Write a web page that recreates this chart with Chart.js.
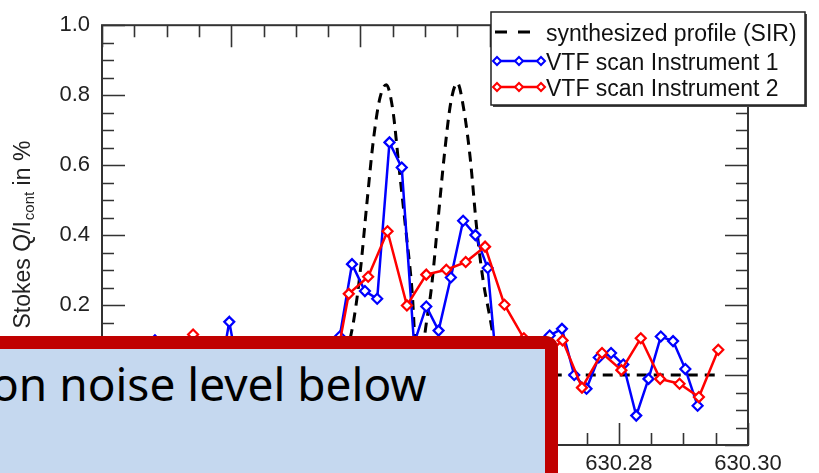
<!DOCTYPE html>
<html>
<head>
<meta charset="utf-8">
<title>Stokes Q profile</title>
<script src="https://cdn.jsdelivr.net/npm/chart.js@4.4.0/dist/chart.umd.min.js"></script>
<style>
  html, body { margin: 0; padding: 0; background: #fff; overflow: hidden; }
  #wrap { position: relative; width: 819px; height: 473px; overflow: hidden; }
  #chart { position: absolute; left: 0; top: 0; }
  .callout {
    position: absolute; left: -30px; top: 336px; width: 588px; height: 200px;
    box-sizing: border-box; border: 13px solid #c00000; border-top-right-radius: 12px;
    background: #c5d8ef;
  }
  .callout span {
    position: absolute; left: 8px; top: 11px; white-space: nowrap;
    font-family: 'Noto Sans', sans-serif; font-size: 46px; line-height: 46px; color: #000;
  }
</style>
</head>
<body>
<div id="wrap">
  <canvas id="chart" width="819" height="473"></canvas>
  <div class="callout"><span>on noise level below</span></div>
</div>
<script>
// Synthesized profile (SIR), wavelength in nm and Q/I in %
const profileWl = [630.205, 630.234, 630.235, 630.236, 630.237, 630.238, 630.239, 630.240,
    630.241, 630.242, 630.243, 630.244, 630.245, 630.246, 630.247, 630.248, 630.249,
    630.250, 630.251, 630.252, 630.253, 630.254, 630.255, 630.256, 630.257, 630.258,
    630.259, 630.260, 630.261, 630.262, 630.263, 630.2955];
const profileVals = [0, 0, 0, 0.01, 0.03, 0.075, 0.16, 0.30,
    0.49, 0.67, 0.79, 0.83, 0.76, 0.59, 0.42, 0.24, -0.05,
    0.12, 0.25, 0.44, 0.63, 0.78, 0.835, 0.76, 0.62, 0.42,
    0.27, 0.17, 0.07, 0.02, 0, 0];

// VTF scan, instrument 1
const inst1Wl = [630.2082, 630.2101, 630.2120, 630.2139, 630.2158, 630.2177, 630.2197, 630.2216,
    630.2235, 630.2254, 630.2273, 630.2292, 630.2311, 630.2330, 630.2349, 630.2368,
    630.2387, 630.2407, 630.2426, 630.2445, 630.2464, 630.2483, 630.2502, 630.2521,
    630.2540, 630.2559, 630.2578, 630.2597, 630.2617, 630.2636, 630.2655, 630.2674,
    630.2693, 630.2712, 630.2731, 630.2750, 630.2769, 630.2788, 630.2807, 630.2827,
    630.2846, 630.2865, 630.2884, 630.2903, 630.2922];
const inst1Vals = [0.099, 0.03, -0.02, 0.05, 0.01, -0.06, 0.152, -0.04,
    0.02, -0.03, 0.04, 0.00, -0.05, 0.03, -0.02, 0.110,
    0.317, 0.240, 0.218, 0.665, 0.593, 0.090, 0.196, 0.127,
    0.279, 0.441, 0.400, 0.306, -0.10, 0.02, -0.04, 0.05,
    0.113, 0.132, 0.000, -0.039, 0.050, 0.063, 0.030, -0.116,
    -0.011, 0.110, 0.097, 0.017, -0.088];

// VTF scan, instrument 2
const inst2Wl = [630.2141, 630.2171, 630.2201, 630.2231, 630.2261, 630.2292, 630.2322, 630.2352,
    630.2382, 630.2412, 630.2442, 630.2472, 630.2502, 630.2533, 630.2563, 630.2593,
    630.2623, 630.2653, 630.2683, 630.2713, 630.2743, 630.2774, 630.2804, 630.2834,
    630.2864, 630.2894, 630.2924, 630.2954];
const inst2Vals = [0.116, 0.02, -0.03, 0.05, -0.02, 0.03, 0.0, -0.066,
    0.232, 0.281, 0.411, 0.199, 0.287, 0.301, 0.323, 0.367,
    0.201, 0.105, 0.05, 0.099, -0.036, 0.063, 0.014, 0.105,
    -0.011, -0.025, -0.063, 0.072];

const seriesLabels = ['synthesized profile (SIR)', 'VTF scan Instrument 1', 'VTF scan Instrument 2'];
const yTitle = ['Stokes Q/I', 'cont', ' in %'];

const FONT = "'Liberation Sans', Arial, Helvetica, sans-serif";
const BLUE = '#0000ff';
const RED = '#ff0000';

function toPoints(xs, ys) {
    return xs.map((x, i) => ({ x: x, y: ys[i] }));
}

function isMultiple(v, step) {
    const r = v / step;
    return Math.abs(r - Math.round(r)) < 1e-6;
}

// Draw a small open diamond
function diamond(ctx, x, y, r, color) {
    ctx.beginPath();
    ctx.moveTo(x, y - r);
    ctx.lineTo(x + r, y);
    ctx.lineTo(x, y + r);
    ctx.lineTo(x - r, y);
    ctx.closePath();
    ctx.fillStyle = '#fff';
    ctx.fill();
    ctx.strokeStyle = color;
    ctx.lineWidth = 2;
    ctx.stroke();
}

// Frame with inward ticks on all four sides, axis title and boxed legend
const framePlugin = {
    id: 'frame',
    afterDraw(chart) {
        const ctx = chart.ctx;
        const a = chart.chartArea;
        const xs = chart.scales.x, ys = chart.scales.y;
        ctx.save();
        ctx.strokeStyle = '#333';
        ctx.lineWidth = 1.6;
        ctx.beginPath();
        xs.ticks.forEach(t => {
            const px = Math.round(xs.getPixelForValue(t.value)) + 0.5;
            const len = isMultiple(t.value, 0.02) ? 22 : 12;
            ctx.moveTo(px, a.bottom); ctx.lineTo(px, a.bottom - len);
            ctx.moveTo(px, a.top); ctx.lineTo(px, a.top + len);
        });
        ys.ticks.forEach(t => {
            const py = Math.round(ys.getPixelForValue(t.value)) + 0.5;
            const len = isMultiple(t.value, 0.2) ? 23 : 12;
            ctx.moveTo(a.left, py); ctx.lineTo(a.left + len, py);
            ctx.moveTo(a.right, py); ctx.lineTo(a.right - len, py);
        });
        ctx.stroke();
        ctx.lineWidth = 2;
        ctx.strokeRect(a.left, a.top, a.right - a.left, a.bottom - a.top);

        // y axis title with subscript
        ctx.fillStyle = '#222';
        ctx.translate(30, (a.top + a.bottom) / 2);
        ctx.rotate(-Math.PI / 2);
        ctx.textBaseline = 'alphabetic';
        ctx.font = '23px ' + FONT;
        const w1 = ctx.measureText(yTitle[0]).width;
        const w3 = ctx.measureText(yTitle[2]).width;
        ctx.font = '15px ' + FONT;
        const w2 = ctx.measureText(yTitle[1]).width;
        let x0 = -(w1 + w2 + w3) / 2;
        ctx.font = '23px ' + FONT;
        ctx.fillText(yTitle[0], x0, 0);
        ctx.font = '15px ' + FONT;
        ctx.fillText(yTitle[1], x0 + w1 + 1, 4);
        ctx.font = '23px ' + FONT;
        ctx.fillText(yTitle[2], x0 + w1 + w2 + 1, 0);
        ctx.restore();

        // legend box
        ctx.save();
        const bx = 491, by = 12, bw = 314, bh = 93;
        ctx.fillStyle = '#444';
        ctx.fillRect(bx + 2, by + 2, bw, bh);
        ctx.fillStyle = '#fff';
        ctx.fillRect(bx, by, bw, bh);
        ctx.strokeStyle = '#222';
        ctx.lineWidth = 1.5;
        ctx.strokeRect(bx, by, bw, bh);

        const rows = [32, 61, 87];
        // dashed sample
        ctx.strokeStyle = '#000';
        ctx.lineWidth = 3;
        ctx.setLineDash([12, 11]);
        ctx.beginPath();
        ctx.moveTo(495, rows[0]); ctx.lineTo(531, rows[0]);
        ctx.stroke();
        ctx.setLineDash([]);
        [BLUE, RED].forEach((c, i) => {
            const y = rows[i + 1];
            ctx.strokeStyle = c;
            ctx.lineWidth = 2.4;
            ctx.beginPath();
            ctx.moveTo(497, y); ctx.lineTo(541, y);
            ctx.stroke();
            [497, 519, 541].forEach(px => diamond(ctx, px, y, 4, c));
        });
        ctx.fillStyle = '#111';
        ctx.font = '23px ' + FONT;
        ctx.textBaseline = 'alphabetic';
        seriesLabels.forEach((s, i) => ctx.fillText(s, 546, rows[i] + 9));
        ctx.restore();
    }
};

new Chart(document.getElementById('chart'), {
    type: 'line',
    data: {
        datasets: [{
            label: seriesLabels[0],
            data: toPoints(profileWl, profileVals),
            borderColor: '#000',
            borderWidth: 3,
            borderDash: [10, 7],
            pointRadius: 0,
            cubicInterpolationMode: 'monotone',
            order: 2
        }, {
            label: seriesLabels[1],
            data: toPoints(inst1Wl, inst1Vals),
            borderColor: BLUE,
            borderWidth: 2.5,
            pointStyle: 'rectRot',
            pointRadius: 5,
            pointBorderWidth: 2.2,
            pointBorderColor: BLUE,
            pointBackgroundColor: '#fff',
            tension: 0,
            order: 1
        }, {
            label: seriesLabels[2],
            data: toPoints(inst2Wl, inst2Vals),
            borderColor: RED,
            borderWidth: 2.5,
            pointStyle: 'rectRot',
            pointRadius: 5,
            pointBorderWidth: 2.2,
            pointBorderColor: RED,
            pointBackgroundColor: '#fff',
            tension: 0,
            order: 0
        }]
    },
    options: {
        responsive: false,
        animation: false,
        devicePixelRatio: 1,
        layout: { padding: { left: 0, top: 10, right: 71, bottom: 0 } },
        plugins: {
            legend: { display: false },
            tooltip: { enabled: false }
        },
        scales: {
            x: {
                type: 'linear',
                min: 630.20,
                max: 630.30,
                grid: { display: false, drawTicks: false },
                border: { display: false },
                afterFit: s => { s.height = 28; },
                ticks: {
                    stepSize: 0.005,
                    autoSkip: false,
                    maxRotation: 0,
                    padding: 6,
                    color: '#222',
                    font: { family: FONT, size: 22 },
                    callback: v => isMultiple(v, 0.02) ? v.toFixed(2) : ''
                }
            },
            y: {
                min: -0.2,
                max: 1.0,
                grid: { display: false, drawTicks: false },
                border: { display: false },
                afterFit: s => { s.width = 102; },
                ticks: {
                    stepSize: 0.05,
                    autoSkip: false,
                    padding: 12,
                    color: '#222',
                    font: { family: FONT, size: 22 },
                    callback: v => isMultiple(v, 0.2) ? v.toFixed(1) : ''
                }
            }
        }
    },
    plugins: [framePlugin]
});
</script>
</body>
</html>
